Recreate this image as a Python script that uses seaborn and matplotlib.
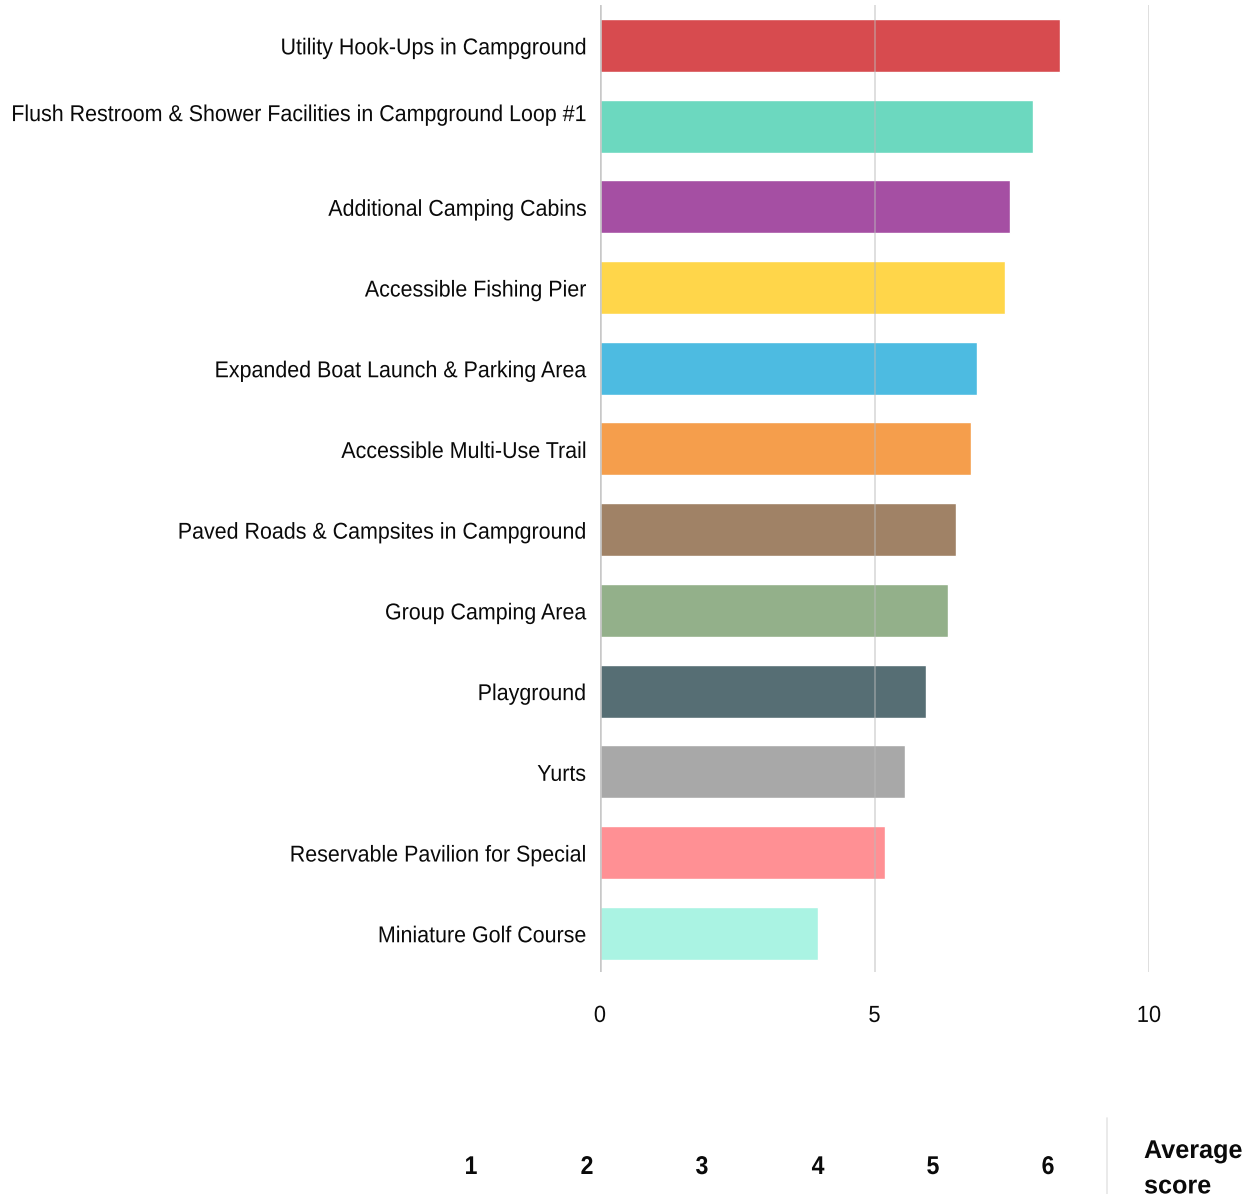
import matplotlib
matplotlib.use("Agg")
import matplotlib.pyplot as plt
import matplotlib.transforms as mtransforms
from matplotlib.patheffects import AbstractPathEffect
from matplotlib import font_manager
import seaborn as sns
import pandas as pd

# Facility priorities and their average scores
facilities = [
    "Utility Hook-Ups in Campground",
    "Flush Restroom & Shower Facilities in Campground Loop #1",
    "Additional Camping Cabins",
    "Accessible Fishing Pier",
    "Expanded Boat Launch & Parking Area",
    "Accessible Multi-Use Trail",
    "Paved Roads & Campsites in Campground",
    "Group Camping Area",
    "Playground",
    "Yurts",
    "Reservable Pavilion for Special",
    "Miniature Golf Course",
]
avg_scores = [8.38, 7.89, 7.47, 7.38, 6.87, 6.76, 6.48, 6.34, 5.94, 5.56, 5.19, 3.97]
bar_colors = [
    "#d74b4f", "#6cd8bf", "#a54fa3", "#ffd64a", "#4dbbe1", "#f59e4c",
    "#a08266", "#93b08a", "#566e74", "#a8a8a8", "#ff9094", "#aaf3e3",
]
x_ticks = [0, 5, 10]
legend_ranks = ["1", "2", "3", "4", "5", "6"]
legend_title = "Average\nscore"


class Condensed(AbstractPathEffect):
    """Squeeze text horizontally about its left, centre or right edge."""

    def __init__(self, sx=0.9, anchor="right"):
        super().__init__()
        self.sx = sx
        self.anchor = anchor

    def draw_path(self, renderer, gc, tpath, affine, rgbFace=None):
        ext = affine.transform_path(tpath).get_extents()
        x0 = {"left": ext.x0, "right": ext.x1, "center": 0.5 * (ext.x0 + ext.x1)}[self.anchor]
        squeeze = mtransforms.Affine2D().translate(-x0, 0).scale(self.sx, 1).translate(x0, 0)
        renderer.draw_path(gc, tpath, affine + squeeze, rgbFace)


sns.set_theme(style="white")
available = {f.name for f in font_manager.fontManager.ttflist}
family = [f for f in ["Liberation Sans Narrow", "Liberation Sans", "DejaVu Sans"] if f in available]
plt.rcParams["font.family"] = family
narrow = "Liberation Sans Narrow" in available
SX = 1.0 if narrow else 0.935

df = pd.DataFrame({"facility": facilities, "score": avg_scores})

W, H = 1250, 1194
fig = plt.figure(figsize=(W / 100, H / 100), dpi=100)
ax = fig.add_axes([600 / W, 1 - 972 / H, (1149 - 600) / W, (972 - 5) / H])

sns.barplot(data=df, y="facility", x="score", hue="facility", palette=bar_colors,
            legend=False, width=0.657, ax=ax, saturation=1, zorder=1)

ax.set_xlim(0, 10)
ax.set_ylim(11.48, -0.5)
ax.set_xticks(x_ticks)
ax.set_xticklabels([str(t) for t in x_ticks])
for t in x_ticks[1:]:
    ax.axvline(t, color="#bbbbbb", lw=1.2, alpha=0.55, zorder=3)
ax.axvline(0, color="#c8c8c8", lw=1.8, zorder=3)

for s in ax.spines.values():
    s.set_visible(False)
ax.set_xlabel("")
ax.set_ylabel("")
ax.tick_params(axis="y", length=0, pad=10, labelsize=16.5, labelcolor="#0a0a0a")
ax.tick_params(axis="x", length=0, pad=23, labelsize=16.8, labelcolor="#0a0a0a")

for lbl in ax.get_yticklabels():
    lbl.set_path_effects([Condensed(SX, "right")])
    if lbl.get_text().startswith("Flush"):
        lbl.set_transform(lbl.get_transform() +
                          mtransforms.ScaledTranslation(0, 14 / 100, fig.dpi_scale_trans))
for lbl in ax.get_xticklabels():
    lbl.set_path_effects([Condensed(SX, "center")])

# Rank legend along the bottom
rank_x = [471, 587, 702, 818, 933, 1048]
for lbl, px in zip(legend_ranks, rank_x):
    fig.text(px / W, 1 - 1167 / H, lbl, ha="center", va="center",
             fontsize=18.5, fontweight="bold", color="#0a0a0a",
             path_effects=[Condensed(0.9, "center")])
fig.add_artist(plt.Line2D([1107 / W, 1107 / W], [0, 1 - 1118 / H],
                          color="#e6e6e6", lw=1.2, transform=fig.transFigure))
fig.text(1144 / W, 1 - 1139 / H, legend_title, ha="left", va="top",
         fontsize=18.5, fontweight="bold", color="#0a0a0a", linespacing=1.6,
         path_effects=[Condensed(0.98, "left")])

fig.savefig("out.png", dpi=100)
